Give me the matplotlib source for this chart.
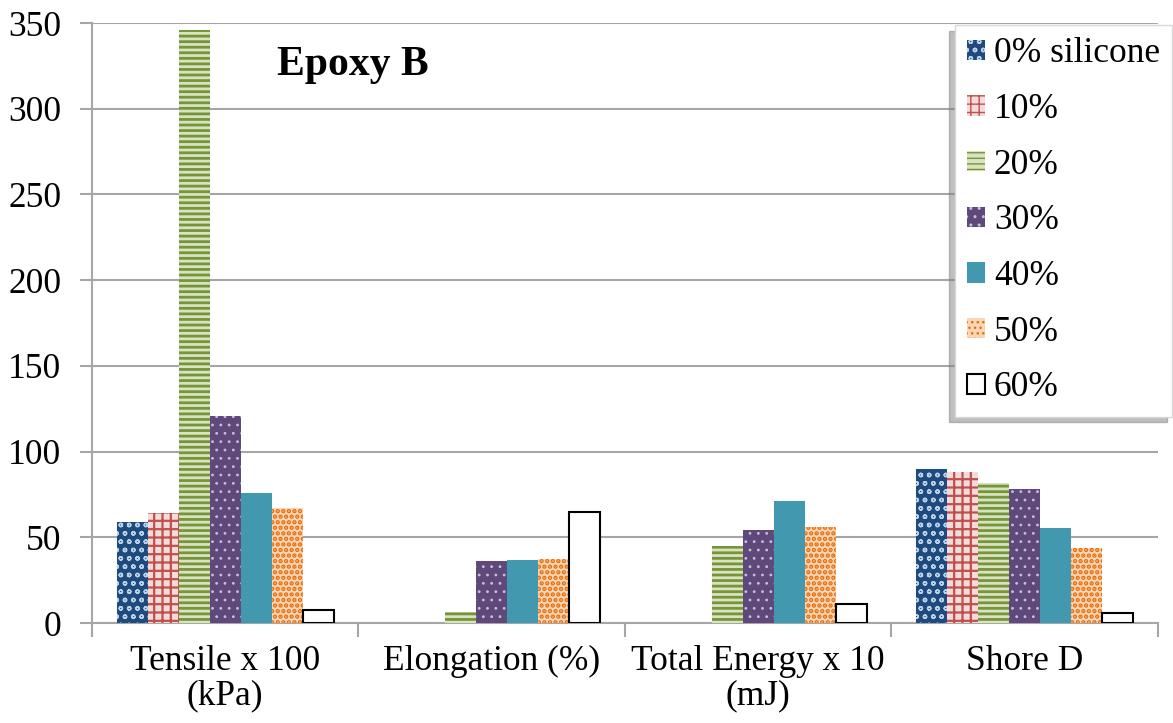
import numpy as np
import matplotlib.pyplot as plt

plt.rcParams['font.family'] = ['Liberation Serif', 'DejaVu Serif']

# categories and series (0 = no bar)
categories = ['Tensile x 100\n(kPa)', 'Elongation (%)', 'Total Energy x 10\n(mJ)', 'Shore D']
series_names = ['0% silicone', '10%', '20%', '30%', '40%', '50%', '60%']
s0 = [59, 0, 0, 90]
s10 = [64, 0, 0, 88]
s20 = [346, 6.6, 45, 81.5]
s30 = [121, 36, 54, 78]
s40 = [76, 36.7, 71, 55.6]
s50 = [67, 37.5, 56, 44]
s60 = [7.6, 65, 11, 5.7]
all_series = [s0, s10, s20, s30, s40, s50, s60]

# face colour, hatch colour, hatch pattern, hatch linewidth
styles = [
    ('#1F4A7E', '#BCD2EA', 'oo', 1.0),
    ('#F2DCDB', '#C0504D', '++', 1.6),
    ('#D7E4BD', '#77933C', '---', 2.0),
    ('#5F497A', '#C9BEDC', '..', 0.8),
    ('#4198AF', '#4198AF', '', 1.0),
    ('#FCD5B4', '#E46C0A', '...', 2.2),
    ('white', 'black', '', 1.0),
]

fig = plt.figure(figsize=(11.73, 7.23), dpi=100)
ax = fig.add_axes([92 / 1173, 1 - 623 / 723, (1158 - 92) / 1173, 600 / 723])

x = np.arange(len(categories))
w = 0.1163
grid_col = '#A6A6A6'
fs = 25.5

handles = []
for k, (vals, name, st) in enumerate(zip(all_series, series_names, styles)):
    face, hcol, hatch, hlw = st
    pos = x + (k - 3) * w
    if name == '60%':
        bars = ax.bar(pos, vals, w, color=face, edgecolor='black', linewidth=1.5,
                      label=name, zorder=3)
    else:
        bars = ax.bar(pos, vals, w, color=face, edgecolor=hcol, linewidth=0,
                      hatch=hatch if hatch else None, label=name, zorder=3)
        for b in bars:
            try:
                b.set_hatch_linewidth(hlw)
            except AttributeError:
                pass
    handles.append(bars)

ax.set_xlim(-0.5, 3.5)
ax.set_ylim(0, 350)
ax.set_yticks(np.arange(0, 351, 50))
ax.yaxis.grid(True, color=grid_col, linewidth=1.5, zorder=0)
ax.set_axisbelow(True)

ax.set_xticks(np.arange(-0.5, 4, 1))
ax.set_xticklabels([])
ax.set_xticks(x, minor=True)
ax.set_xticklabels(categories, minor=True, fontsize=fs, linespacing=1.05)
ax.tick_params(axis='x', which='major', length=10, width=1.5, color=grid_col, direction='out')
ax.tick_params(axis='x', which='minor', length=0, pad=16)
ax.tick_params(axis='y', length=9, width=1.5, color=grid_col, labelsize=fs, pad=13)

for side in ['top', 'right']:
    ax.spines[side].set_visible(False)
for side in ['left', 'bottom']:
    ax.spines[side].set_color(grid_col)
    ax.spines[side].set_linewidth(1.5)

fig.text(277 / 1173, 1 - 75 / 723, 'Epoxy B', fontsize=30, fontweight='bold',
         va='baseline', ha='left')

leg = fig.legend(handles=handles, labels=series_names, loc='upper left',
                 bbox_to_anchor=(955 / 1173, 1 - 25 / 723), fontsize=fs,
                 handlelength=0.5, handleheight=0.5, handletextpad=0.25,
                 labelspacing=0.64, borderpad=0.35, borderaxespad=0,
                 fancybox=False, framealpha=1, edgecolor='#D9D9D9',
                 shadow={'ox': -4, 'oy': -4, 'color': '#808080', 'alpha': 0.5})

fig.savefig('out.png', dpi=100)
